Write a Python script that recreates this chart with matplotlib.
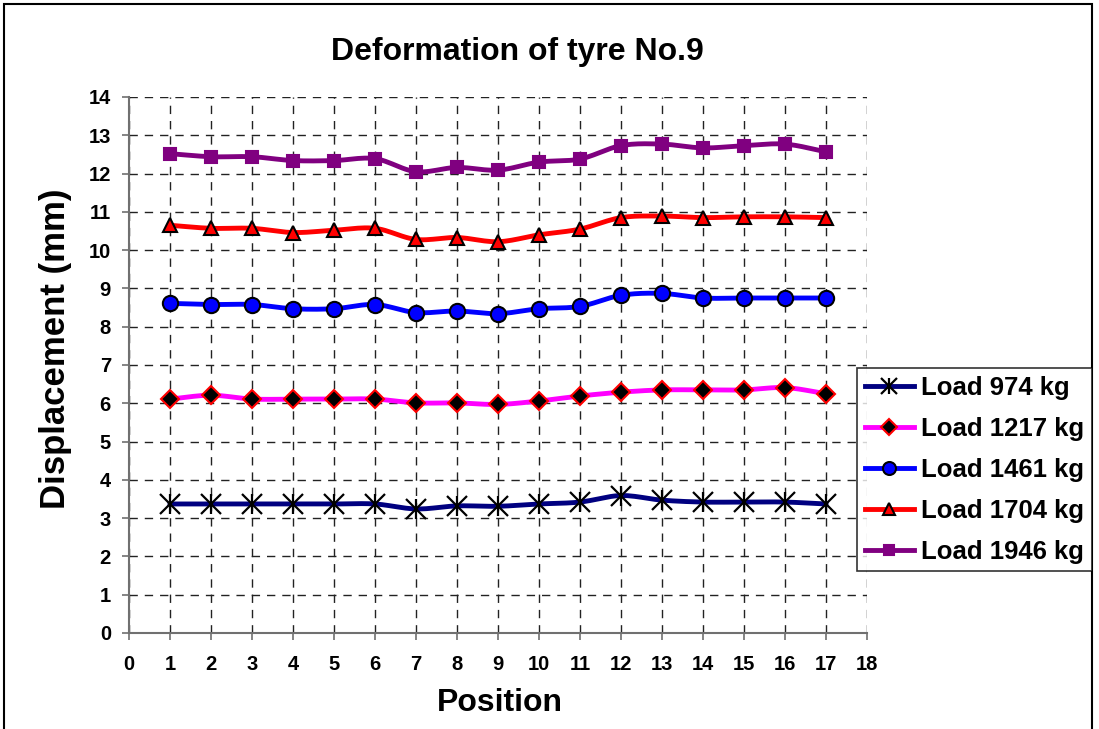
import matplotlib.pyplot as plt
import matplotlib.patches as patches
import numpy as np

plt.rcParams['font.family'] = ['Liberation Sans', 'DejaVu Sans']
plt.rcParams['font.weight'] = 'bold'

positions = list(range(1, 18))
load_974 = [3.37, 3.37, 3.37, 3.37, 3.37, 3.37, 3.24, 3.32, 3.31, 3.37, 3.42, 3.59, 3.47, 3.42, 3.42, 3.42, 3.37]
load_1217 = [6.11, 6.21, 6.11, 6.11, 6.11, 6.11, 6.01, 6.01, 5.97, 6.06, 6.19, 6.29, 6.35, 6.35, 6.35, 6.41, 6.25]
load_1461 = [8.61, 8.58, 8.58, 8.47, 8.47, 8.58, 8.37, 8.41, 8.34, 8.47, 8.53, 8.82, 8.87, 8.75, 8.75, 8.75, 8.75]
load_1704 = [10.65, 10.57, 10.57, 10.46, 10.52, 10.57, 10.28, 10.33, 10.22, 10.40, 10.55, 10.85, 10.89, 10.85, 10.87, 10.87, 10.85]
load_1946 = [12.52, 12.44, 12.44, 12.34, 12.34, 12.39, 12.05, 12.16, 12.09, 12.30, 12.38, 12.73, 12.77, 12.67, 12.73, 12.77, 12.57]
labels = ['Load 974 kg', 'Load 1217 kg', 'Load 1461 kg', 'Load 1704 kg', 'Load 1946 kg']


def smooth(x, y, n=12):
    # Catmull-Rom curve through the points, like Excel's smoothed line
    x = np.asarray(x, float)
    y = np.asarray(y, float)
    px = np.concatenate([[2 * x[0] - x[1]], x, [2 * x[-1] - x[-2]]])
    py = np.concatenate([[2 * y[0] - y[1]], y, [2 * y[-1] - y[-2]]])
    xs, ys = [], []
    t = np.linspace(0, 1, n, endpoint=False)
    for i in range(1, len(px) - 2):
        for p, out in ((px, xs), (py, ys)):
            p0, p1, p2, p3 = p[i - 1], p[i], p[i + 1], p[i + 2]
            out.extend(0.5 * (2 * p1 + (-p0 + p2) * t + (2 * p0 - 5 * p1 + 4 * p2 - p3) * t ** 2
                              + (-p0 + 3 * p1 - 3 * p2 + p3) * t ** 3))
    xs.append(x[-1])
    ys.append(y[-1])
    return xs, ys


fig = plt.figure(figsize=(10.99, 7.29), dpi=100)
ax = fig.add_axes([129 / 1099, 1 - 633 / 729, (867 - 129) / 1099, (633 - 97) / 729])

# asterisk = 'x' plus '|' drawn on top of each other
styles = [
    dict(color='#000080', markers=['x', '|'], mfc='black', mec='black', ms=14, mew=1.6),
    dict(color='#FF00FF', markers=['D'], mfc='black', mec='red', ms=9, mew=1.5),
    dict(color='#0000FF', markers=['o'], mfc='#0000FF', mec='black', ms=11, mew=1.5),
    dict(color='#FF0000', markers=['^'], mfc='#FF0000', mec='black', ms=10, mew=1.5),
    dict(color='#800080', markers=['s'], mfc='#800080', mec='#800080', ms=9, mew=1.5),
]
series = [load_974, load_1217, load_1461, load_1704, load_1946]

handles = []
for vals, st, lab in zip(series, styles, labels):
    sx, sy = smooth(positions, vals)
    ax.plot(sx, sy, color=st['color'], lw=3.5, zorder=3)
    parts = []
    for m in st['markers']:
        ax.plot(positions, vals, ls='none', marker=m, mfc=st['mfc'], mec=st['mec'],
                ms=st['ms'], mew=st['mew'], zorder=4)
        parts.append(ax.plot([], [], ls='none', marker=m, mfc=st['mfc'], mec=st['mec'],
                             ms=st['ms'] * 0.85, mew=st['mew'])[0])
    ln, = ax.plot([], [], color=st['color'], lw=3.5)
    handles.append(tuple([ln] + parts))

ax.set_xlim(0, 18)
ax.set_ylim(0, 14)
ax.set_xticks(range(0, 19))
ax.set_yticks(range(0, 15))
ax.grid(True, color='#222222', ls=(0, (6, 5)), lw=1)
ax.set_axisbelow(True)
for s in ['top', 'right']:
    ax.spines[s].set_visible(False)
for s in ['left', 'bottom']:
    ax.spines[s].set_color('#707070')
    ax.spines[s].set_linewidth(1.5)
ax.tick_params(labelsize=14.5, length=5, width=1.2, color='#707070')
ax.tick_params(axis='x', pad=11)
ax.tick_params(axis='y', pad=8)
for lbl in ax.get_xticklabels() + ax.get_yticklabels():
    lbl.set_fontweight('bold')

fig.text(517 / 1099, 1 - 52 / 729, 'Deformation of tyre No.9', fontsize=23, fontweight='bold',
         ha='center', va='center')
ax.set_xlabel('Position', fontsize=23, fontweight='bold')
ax.set_ylabel('Displacement (mm)', fontsize=25, fontweight='bold')
ax.xaxis.set_label_coords(500 / 1099, 1 - 703 / 729, transform=fig.transFigure)
ax.yaxis.set_label_coords(56 / 1099, 1 - 349 / 729, transform=fig.transFigure)
ax.xaxis.label.set_va('center')
ax.yaxis.label.set_va('center')

leg = fig.legend(handles=handles, labels=labels, loc='upper left',
                 bbox_to_anchor=(857 / 1099, 1 - 368 / 729),
                 prop={'size': 18.5, 'weight': 'bold'}, frameon=True, fancybox=False,
                 edgecolor='black', handlelength=1.9, labelspacing=0.66, borderpad=0.3,
                 handletextpad=0.3, borderaxespad=0)
leg.get_frame().set_linewidth(1.2)

fig.patches.append(patches.Rectangle((4 / 1099, -0.01), 1088 / 1099, 1 - 4 / 729 + 0.01,
                                     transform=fig.transFigure, fill=False, ec='black', lw=1.5))

fig.savefig('out.png', dpi=100)
